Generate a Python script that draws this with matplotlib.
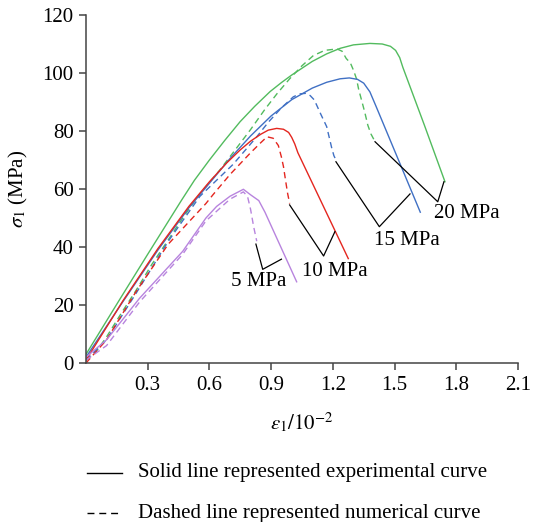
import matplotlib
matplotlib.use('Agg')
import matplotlib.pyplot as plt
from matplotlib.lines import Line2D

plt.rcParams['font.family'] = ['Liberation Serif', 'DejaVu Serif']
plt.rcParams['mathtext.fontset'] = 'stix'

# 20 MPa
g_exp_x = [0, 0.162, 0.3, 0.465, 0.527, 0.6, 0.675, 0.749, 0.82, 0.895, 0.95, 1.0, 1.1, 1.17, 1.235, 1.3, 1.38, 1.44, 1.48,
           1.505, 1.525, 1.54, 1.645, 1.745]
g_exp_y = [3, 21.7, 37.5, 56.2, 63, 70, 76.8, 83.2, 88.5, 93.6, 96.7, 99.3, 104, 106.6, 108.5, 109.7, 110.2, 110, 109.2,
           107.8, 105.3, 102, 82, 62.5]
g_num_x = [0, 0.05, 0.1, 0.17, 0.243, 0.32, 0.4, 0.48, 0.55, 0.65, 0.72, 0.8, 0.87, 0.93, 0.99, 1.05, 1.105, 1.16, 1.22,
           1.245, 1.265, 1.285, 1.30, 1.315, 1.325, 1.34, 1.355, 1.37, 1.385, 1.40]
g_num_y = [1, 4, 9, 17, 25, 34, 42.5, 51, 58, 66.5, 73, 80.5, 87.5, 93, 98, 102.5, 106, 107.8, 108.3,
           107.5, 105, 103.5, 101, 98, 94.5, 90.5, 86.5, 82, 79, 77]
# 15 MPa
b_exp_x = [0, 0.178, 0.35, 0.5, 0.6, 0.7, 0.8, 0.9, 1.0, 1.1, 1.17, 1.235, 1.28, 1.32, 1.35, 1.38, 1.41, 1.625]
b_exp_y = [2, 21, 39, 53.5, 62, 70.5, 78.3, 85.2, 90.8, 94.8, 96.8, 98, 98.3, 97.8, 96.5, 93.5, 88.5, 52]
b_num_x = [0, 0.1, 0.243, 0.4, 0.554, 0.715, 0.83, 0.886, 0.95, 1.008, 1.04, 1.07, 1.09, 1.11, 1.14, 1.17, 1.185, 1.195, 1.205, 1.215]
b_num_y = [1, 8, 24, 42, 57.5, 68.5, 78, 83, 88, 91.8, 92.8, 93, 92.2, 90.7, 86, 81.5, 77, 74, 71.5, 70]
# 10 MPa
r_exp_x = [0, 0.18, 0.35, 0.5, 0.6, 0.684, 0.75, 0.8, 0.85, 0.886, 0.927, 0.96, 0.985, 1.0, 1.015, 1.03, 1.275]
r_exp_y = [1, 21.5, 39.5, 54, 62.5, 69, 73.5, 76.5, 78.9, 80.3, 80.9, 80.6, 79.5, 77.8, 75.5, 72.5, 36]
r_num_x = [0, 0.1, 0.243, 0.4, 0.583, 0.617, 0.7, 0.8, 0.85, 0.88, 0.91, 0.935, 0.95, 0.96, 0.97, 0.98, 0.99]
r_num_y = [0, 8, 24.6, 41, 55, 58, 65, 72.5, 76, 78, 77.5, 75, 71, 67.7, 63, 58.5, 55]
# 5 MPa
p_exp_x = [0, 0.1, 0.26, 0.47, 0.583, 0.635, 0.7, 0.765, 0.8, 0.84, 0.87, 1.024]
p_exp_y = [2, 8, 22.3, 38.5, 50, 54, 57.5, 59.9, 58, 56, 52, 28]
p_num_x = [0, 0.1, 0.26, 0.47, 0.583, 0.7, 0.765, 0.785, 0.8, 0.815, 0.83]
p_num_y = [1, 6, 21, 37.5, 49, 56.5, 59, 57.5, 53, 47, 42]

labels = ['5 MPa', '10 MPa', '15 MPa', '20 MPa']
label_x = [0.838, 1.21, 1.56, 1.85]
label_y = [28, 31.5, 42.4, 51.6]
# bracket lines for the labels: (start on dashed, corner, end on solid)
bracket_x = [[0.826, 0.859, 0.95], [0.99, 1.155, 1.21], [1.215, 1.426, 1.575], [1.405, 1.71, 1.74]]
bracket_y = [[41, 32.3, 35.8], [54.5, 36.9, 45.3], [69.4, 47, 58.3], [76.3, 55.6, 62.5]]

c_green = '#52bb5e'
c_blue = '#4070c4'
c_red = '#e4261f'
c_purple = '#b884de'
dash = (0, (4.5, 3))
fs = 15

fig = plt.figure(figsize=(5.43, 5.22), dpi=100)
ax = fig.add_axes([86 / 543, 159 / 522, 432 / 543, 348 / 522])

lw = 1.0
ax.plot(g_exp_x, g_exp_y, color=c_green, lw=lw)
ax.plot(g_num_x, g_num_y, color=c_green, lw=lw, linestyle=dash)
ax.plot(b_exp_x, b_exp_y, color=c_blue, lw=lw)
ax.plot(b_num_x, b_num_y, color=c_blue, lw=lw, linestyle=dash)
ax.plot(r_exp_x, r_exp_y, color=c_red, lw=lw)
ax.plot(r_num_x, r_num_y, color=c_red, lw=lw, linestyle=dash)
ax.plot(p_exp_x, p_exp_y, color=c_purple, lw=lw)
ax.plot(p_num_x, p_num_y, color=c_purple, lw=lw, linestyle=dash)

for i in range(len(labels)):
    ax.plot(bracket_x[i], bracket_y[i], color='k', lw=0.9)
    ax.text(label_x[i], label_y[i], labels[i], fontsize=fs, ha='center', va='center')

ax.set_xlim(0, 2.1)
ax.set_ylim(0, 120)
ax.set_xticks([0.3, 0.6, 0.9, 1.2, 1.5, 1.8, 2.1])
ax.set_xticklabels(['0.3', '0.6', '0.9', '1.2', '1.5', '1.8', '2.1'])
ax.set_yticks([0, 20, 40, 60, 80, 100, 120])
for s in ['top', 'right']:
    ax.spines[s].set_visible(False)
for s in ['left', 'bottom']:
    ax.spines[s].set_color('#444444')
    ax.spines[s].set_linewidth(1.1)
ax.tick_params(direction='out', length=5, width=1.1, color='#444444', labelsize=fs, pad=4)

ax.set_xlabel(r'$\varepsilon_1/10^{-2}$', fontsize=fs)
ax.set_ylabel(r'$\sigma_1$ (MPa)', fontsize=fs)
ax.xaxis.set_label_coords(0.5, -0.138)
ax.yaxis.set_label_coords(-0.130, 0.5)

# legend at the bottom
fig.add_artist(Line2D([87 / 543, 122 / 543], [0.0939, 0.0939], color='k', lw=1.0))
fig.add_artist(Line2D([87 / 543, 122 / 543], [0.0172, 0.0172], color='k', lw=1.0, linestyle=(0, (5, 3.5))))
fig.text(137.6 / 543, 0.0939, 'Solid line represented experimental curve', fontsize=fs, va='center')
fig.text(137.6 / 543, 0.0172, 'Dashed line represented numerical curve', fontsize=fs, va='center')

fig.savefig('out.png', dpi=100)
